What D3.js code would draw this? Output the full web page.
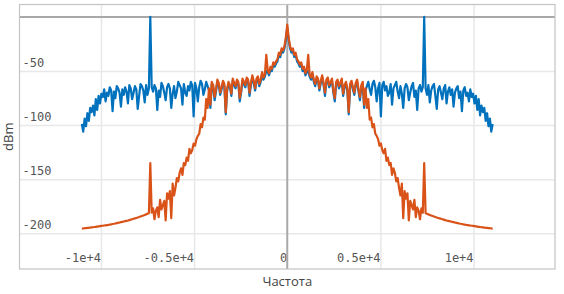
<!DOCTYPE html>
<html>
<head>
<meta charset="utf-8">
<script src="https://cdn.jsdelivr.net/npm/d3@7"></script>
<style>
  body { margin: 0; background: #fff; }
  svg { display: block; }
  .tick text { font-family: "DejaVu Sans Mono", monospace; font-size: 12px; fill: #555; }
  .axis-title { font-family: "Open Sans", sans-serif; font-size: 13px; fill: #444; }
</style>
</head>
<body>
<svg id="chart" width="564" height="294"></svg>
<script>
// bin step in Hz, spectra are symmetric so only the positive half is kept
const binStep = 75;

// blue (input) spectrum, dBm, bins 0..147 (0 .. 11025 Hz)
const inputHalf = [
  -10, -21, -29, -33, -31, -37, -35, -41, -43, -46, -44, -50, -48, -54, -51, -50,
  -55, -58, -53, -60, -64, -57, -59, -68, -61, -56, -63, -73, -60, -58, -65, -62,
  -59, -70, -78, -62, -60, -66, -63, -59, -73, -65, -62, -68, -90, -64, -61, -67,
  -72, -63, -60, -69, -77, -65, -62, -84, -68, -64, -60, -67, -72, -62, -59, -65,
  -78, -66, -61, -92, -63, -60, -68, -64, -73, -70, -62, -81, -66, -63, -60, -69,
  -75, -64, -71, -84, -66, -62, -65, -77, -70, -64, -61, -74, -68, -86, -66, -63,
  -69, -65, 0, -66, -72, -63, -79, -68, -64, -62, -73, -85, -67, -64, -70, -76,
  -66, -63, -80, -69, -65, -72, -67, -83, -70, -66, -64, -75, -69, -87, -68, -65,
  -73, -70, -78, -67, -74, -71, -80, -73, -86, -76, -91, -82, -88, -84, -96, -89,
  -101, -94, -106, -99
];

// orange (filtered) spectrum, dBm, same bins
const outputHalf = [
  -7, -19, -27, -31, -29, -35, -33, -39, -41, -44, -42, -48, -46, -52, -49, -35,
  -53, -56, -51, -58, -62, -55, -57, -66, -59, -54, -61, -70, -58, -56, -63, -60,
  -57, -68, -75, -60, -58, -64, -61, -57, -71, -63, -60, -66, -88, -62, -59, -65,
  -70, -61, -58, -67, -74, -63, -60, -81, -66, -84, -76, -95, -93, -102, -99, -108,
  -110, -113, -119, -117, -123, -126, -122, -133, -130, -137, -135, -146, -140, -144, -152, -149,
  -158, -165, -154, -186, -161, -168, -163, -188, -170, -174, -178, -169, -185, -176, -179, -187,
  -177, -181, -135, -181.5, -182.0, -182.5, -183.0, -183.5, -184.0, -184.5, -185.0, -185.4, -185.8, -186.2, -186.6, -187.0,
  -187.4, -187.8, -188.2, -188.5, -188.8, -189.1, -189.4, -189.7, -190.0, -190.3, -190.6, -190.9, -191.2, -191.4, -191.7, -191.9,
  -192.2, -192.4, -192.6, -192.8, -193.0, -193.2, -193.4, -193.6, -193.8, -194.0, -194.2, -194.4, -194.5, -194.7, -194.9, -195.0,
  -195.2, -195.3, -195.5, -195.6
];

const xTicks = [-10000, -5000, 0, 5000, 10000];
const xTickLabels = ["-1e+4", "-0.5e+4", "0", "0.5e+4", "1e+4"];
const yTicks = [-50, -100, -150, -200];
const yTickLabels = ["-50", "-100", "-150", "-200"];

const svg = d3.select("#chart");
const margin = { top: 4.5, right: 9, bottom: 25, left: 19.5 };
const width = 564, height = 294;
const plotW = width - margin.left - margin.right;
const plotH = height - margin.top - margin.bottom;

const x = d3.scaleLinear().domain([-14370, 14370]).range([margin.left, margin.left + plotW]);
const y = d3.scaleLinear().domain([-233, 11.5]).range([margin.top + plotH, margin.top]);

// build full spectrum by mirroring the half
function fullSpectrum(half) {
  const pts = [];
  for (let i = half.length - 1; i > 0; i--) pts.push({ f: -i * binStep, v: half[i] });
  for (let i = 0; i < half.length; i++) pts.push({ f: i * binStep, v: half[i] });
  return pts;
}

svg.append("clipPath").attr("id", "plot-clip")
  .append("rect")
  .attr("x", margin.left).attr("y", margin.top)
  .attr("width", plotW).attr("height", plotH);

// grid + tick labels, x
const xAxis = svg.append("g")
  .attr("transform", `translate(0, ${margin.top + plotH})`)
  .call(d3.axisBottom(x).tickValues(xTicks).tickSize(-plotH).tickFormat((d, i) => xTickLabels[i]));
xAxis.select(".domain").remove();
xAxis.selectAll(".tick line").attr("stroke", d => d === 0 ? "none" : "#e8e8e8").attr("stroke-width", 1.5);
xAxis.selectAll(".tick text")
  .attr("text-anchor", "end")
  .attr("x", -0.5)
  .attr("y", -7)
  .attr("dy", 0);

// grid + tick labels, y
const yAxis = svg.append("g")
  .attr("transform", `translate(${margin.left}, 0)`)
  .call(d3.axisLeft(y).tickValues(yTicks).tickSize(-plotW).tickFormat((d, i) => yTickLabels[i]));
yAxis.select(".domain").remove();
yAxis.selectAll(".tick line").attr("stroke", "#e8e8e8").attr("stroke-width", 1.5);
yAxis.selectAll(".tick text")
  .attr("text-anchor", "start")
  .attr("x", 3)
  .attr("y", -5)
  .attr("dy", 0);

// zero lines
svg.append("line")
  .attr("x1", margin.left).attr("x2", margin.left + plotW)
  .attr("y1", y(0)).attr("y2", y(0))
  .attr("stroke", "#a8a8a8").attr("stroke-width", 2);
svg.append("line")
  .attr("x1", x(0)).attr("x2", x(0))
  .attr("y1", margin.top).attr("y2", margin.top + plotH)
  .attr("stroke", "#a8a8a8").attr("stroke-width", 2);

const line = d3.line().x(d => x(d.f)).y(d => y(d.v));
const lines = svg.append("g").attr("clip-path", "url(#plot-clip)");

lines.append("path")
  .datum(fullSpectrum(inputHalf))
  .attr("d", line)
  .attr("fill", "none")
  .attr("stroke", "#0072BD")
  .attr("stroke-width", 2.2)
  .attr("stroke-linejoin", "round");

lines.append("path")
  .datum(fullSpectrum(outputHalf))
  .attr("d", line)
  .attr("fill", "none")
  .attr("stroke", "#D95319")
  .attr("stroke-width", 2.2)
  .attr("stroke-linejoin", "round");

// frame
svg.append("rect")
  .attr("x", margin.left).attr("y", margin.top)
  .attr("width", plotW).attr("height", plotH)
  .attr("fill", "none").attr("stroke", "#c4c4c4").attr("stroke-width", 1.2);

// axis titles
svg.append("text")
  .attr("class", "axis-title")
  .attr("x", margin.left + plotW / 2)
  .attr("y", 286)
  .attr("text-anchor", "middle")
  .text("Частота");

svg.append("text")
  .attr("class", "axis-title")
  .attr("transform", `translate(13, ${margin.top + plotH / 2}) rotate(-90)`)
  .attr("text-anchor", "middle")
  .text("dBm");
</script>
</body>
</html>
